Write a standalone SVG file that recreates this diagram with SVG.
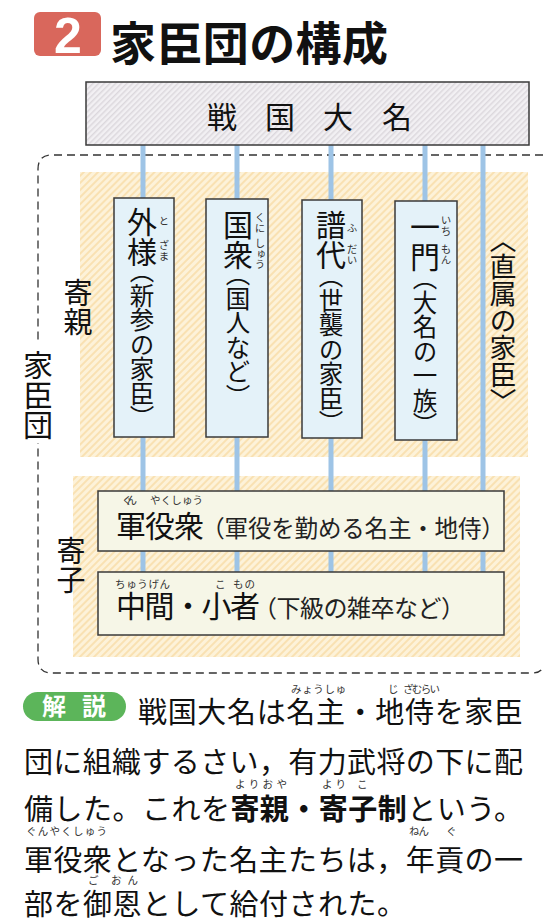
<svg xmlns="http://www.w3.org/2000/svg" width="543" height="921" viewBox="0 0 543 921">
<style>
.jp{font-family:"Noto Sans CJK JP","Noto Sans CJK SC",sans-serif;fill:#111}
.v{writing-mode:vertical-rl;font-feature-settings:"vhal"}
.h{font-feature-settings:"halt"}
.full{font-feature-settings:normal}
.ruby{font-size:10.5px;fill:#333}
.vbox{fill:#e4f2f9;stroke:#3a3a3a;stroke-width:1.5}
.hbox{fill:#f6f6e7;stroke:#3a3a3a;stroke-width:1.5}
.link{stroke:#9ec4e6;stroke-width:5;fill:none}
.body{font-size:29px}
</style>
<defs>
<pattern id="hy" width="5" height="5" patternUnits="userSpaceOnUse" patternTransform="rotate(45)">
<rect width="5" height="5" fill="#fdf2d9"/><rect width="2" height="5" fill="#f9e1b2"/>
</pattern>
<pattern id="hg" width="4" height="4" patternUnits="userSpaceOnUse" patternTransform="rotate(45)">
<rect width="4" height="4" fill="#f2f0f3"/><rect width="1.5" height="4" fill="#dcd8dd"/>
</pattern>
</defs>

<g id="title">
<rect x="34" y="12" width="67" height="44" rx="6" fill="#d9675c"/>
<text x="68" y="53" text-anchor="middle" font-family="Liberation Sans,Arial,sans-serif" font-weight="bold" font-size="50" fill="#fff">2</text>
<text class="jp" x="110" y="60" font-size="46" font-weight="700" textLength="278" lengthAdjust="spacing">家臣団の構成</text>
</g>

<g id="regions">
<rect x="80" y="172" width="448" height="285" fill="url(#hy)"/>
<rect x="73" y="476" width="447" height="181" fill="url(#hy)"/>
<path d="M543,155 L52,155 Q38,155 38,169 L38,659 Q38,673 52,673 L532,673 Q541,673 543,667" fill="none" stroke="#333" stroke-width="1.3" stroke-dasharray="8,5"/>
</g>

<g id="connectors">
<line class="link" x1="143" y1="144" x2="143" y2="572"/>
<line class="link" x1="237" y1="144" x2="237" y2="572"/>
<line class="link" x1="331" y1="144" x2="331" y2="572"/>
<line class="link" x1="425" y1="144" x2="425" y2="572"/>
<line class="link" x1="483" y1="144" x2="483" y2="576"/>
</g>

<g id="daimyo">
<rect x="86" y="82" width="443" height="63" fill="url(#hg)" stroke="#3a3a3a" stroke-width="1.5"/>
<text class="jp" x="207 265 323 382" y="128" font-size="30">戦国大名</text>
</g>

<g id="kashindan-label">
<rect x="22" y="343" width="32" height="100" fill="#fff"/>
<text class="jp v" x="38" y="350" font-size="30">家臣団</text>
</g>

<g id="yorioya-label">
<text class="jp v" x="78" y="278" font-size="29">寄親</text>
</g>

<g id="yoriko-label">
<text class="jp v" x="71" y="536" font-size="29">寄子</text>
</g>

<g id="tozama">
<rect class="vbox" x="114" y="198" width="60" height="239"/>
<text class="jp v" x="142" y="207" font-size="30">外様</text>
<text class="jp v ruby" x="164" y="216">と</text>
<text class="jp v ruby" x="164" y="240">ざま</text>
<text class="jp v" x="142" y="271" font-size="24.5">（新参の家臣）</text>
</g>

<g id="kunishu">
<rect class="vbox" x="206" y="199" width="62" height="238"/>
<text class="jp v" x="238" y="210" font-size="30">国衆</text>
<text class="jp v ruby" x="260" y="212">くに</text>
<text class="jp v ruby" x="260" y="238">しゅう</text>
<text class="jp v" x="238" y="274" font-size="24.5">（国人など）</text>
</g>

<g id="fudai">
<rect class="vbox" x="302" y="200" width="60" height="238"/>
<text class="jp v" x="331" y="210" font-size="30">譜代</text>
<text class="jp v ruby" x="352" y="223">ふ</text>
<text class="jp v ruby" x="352" y="244">だい</text>
<text class="jp v" x="331" y="276" font-size="24.5">（世襲の家臣）</text>
</g>

<g id="ichimon">
<rect class="vbox" x="395" y="201" width="62" height="239"/>
<text class="jp v" x="425" y="212" font-size="30">一門</text>
<text class="jp v ruby" x="446" y="215">いち</text>
<text class="jp v ruby" x="446" y="244">もん</text>
<text class="jp v" x="425" y="278" font-size="24.5">（大名の一族）</text>
</g>

<g id="chokuzoku">
<text class="jp v" x="503" y="240" font-size="27">〈直属の家臣〉</text>
</g>

<g id="gunyakushu">
<rect class="hbox" x="98" y="491" width="406" height="60"/>
<text class="jp ruby" x="122" y="504" textLength="15" lengthAdjust="spacing">ぐん</text>
<text class="jp ruby" x="150" y="504" textLength="53" lengthAdjust="spacing">やくしゅう</text>
<text class="jp" x="116" y="537" font-size="30" textLength="88" lengthAdjust="spacing">軍役衆</text>
<text class="jp h" x="213" y="537" font-size="23.5" textLength="280" lengthAdjust="spacing" style="fill:#222">（軍役を勤める名主<tspan class="full">・</tspan>地侍）</text>
</g>

<g id="chugen">
<rect class="hbox" x="98" y="572" width="406" height="63"/>
<text class="jp ruby" x="115" y="588" textLength="55" lengthAdjust="spacing">ちゅうげん</text>
<text class="jp ruby" x="215" y="588">こ</text>
<text class="jp ruby" x="233" y="588" textLength="22" lengthAdjust="spacing">もの</text>
<text class="jp" x="116" y="617" font-size="30" textLength="144" lengthAdjust="spacing">中間・小者</text>
<text class="jp h" x="265" y="617" font-size="24" textLength="188" lengthAdjust="spacing" style="fill:#222">（下級の雑卒など）</text>
</g>

<g id="kaisetsu">
<rect x="23" y="692" width="103" height="29" rx="14.5" fill="#5cb55a"/>
<text x="42 82" y="715" font-family="Noto Sans CJK JP,sans-serif" font-weight="700" font-size="24" fill="#fff">解説</text>
<text class="jp ruby" x="291" y="693" font-size="11" textLength="55" lengthAdjust="spacing">みょうしゅ</text>
<text class="jp ruby" x="388" y="693" font-size="11">じ</text>
<text class="jp ruby" x="403" y="693" font-size="11" textLength="37" lengthAdjust="spacing">ざむらい</text>
<text class="jp body" x="138" y="723" textLength="385" lengthAdjust="spacing">戦国大名は名主・地侍を家臣</text>
<text class="jp body" x="24" y="773" textLength="499" lengthAdjust="spacing">団に組織するさい，有力武将の下に配</text>
<text class="jp ruby" x="235" y="788" font-size="11" textLength="52" lengthAdjust="spacing">よりおや</text>
<text class="jp ruby" x="322" y="788" font-size="11" textLength="24" lengthAdjust="spacing">より</text>
<text class="jp ruby" x="357" y="788" font-size="11">こ</text>
<text class="jp body" x="24" y="820" textLength="499" lengthAdjust="spacing">備した。これを<tspan font-weight="700">寄親・寄子制</tspan>という。</text>
<text class="jp ruby" x="26" y="835" font-size="11" textLength="81" lengthAdjust="spacing">ぐんやくしゅう</text>
<text class="jp ruby" x="409" y="835" font-size="11" textLength="20" lengthAdjust="spacing">ねん</text>
<text class="jp ruby" x="446" y="835" font-size="11">ぐ</text>
<text class="jp body" x="24" y="871" textLength="499" lengthAdjust="spacing">軍役衆となった名主たちは，年貢の一</text>
<text class="jp ruby" x="88" y="884" font-size="11">ご</text>
<text class="jp ruby" x="111" y="884" font-size="11" textLength="27" lengthAdjust="spacing">おん</text>
<text class="jp body" x="24" y="915" textLength="382" lengthAdjust="spacing">部を御恩として給付された。</text>
</g>
</svg>
